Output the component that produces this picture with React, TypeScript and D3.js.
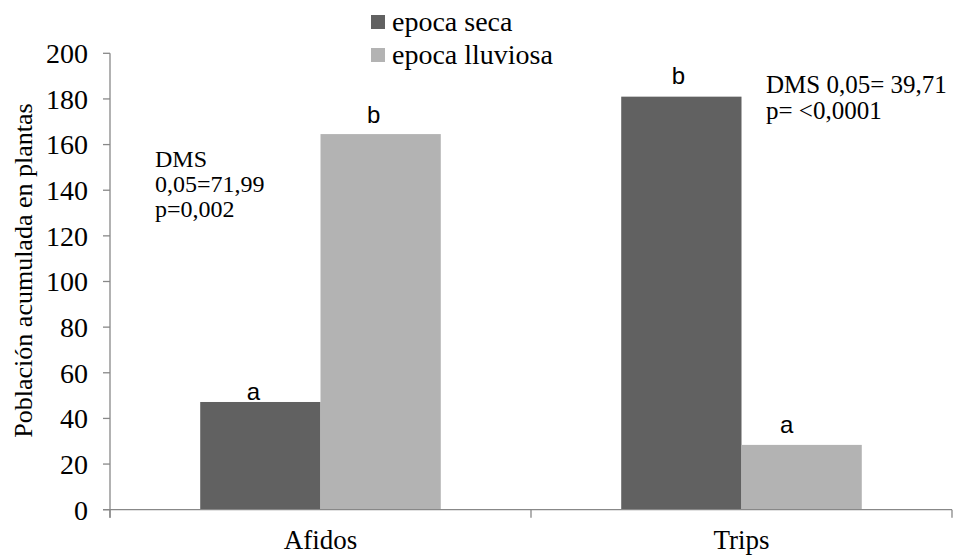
import React from "react";
import * as d3 from "d3";

const categories = ["Afidos", "Trips"];
const seriesNames = ["epoca seca", "epoca lluviosa"];
const epocaSeca = [47.2, 181];
const epocaLluviosa = [164.6, 28.4];
const letrasSeca = ["a", "b"];
const letrasLluviosa = ["b", "a"];
const yTicks = [0, 20, 40, 60, 80, 100, 120, 140, 160, 180, 200];
const colors = ["#616161", "#b3b3b3"];

const W = 957;
const H = 556;
const margin = { left: 110, right: 5, top: 53.3, bottom: 46.3 };

export default function App() {
  const x0 = d3
    .scaleBand<string>()
    .domain(categories)
    .range([margin.left, W - margin.right])
    .paddingInner(0)
    .paddingOuter(0);
  const y = d3.scaleLinear().domain([0, 200]).range([H - margin.bottom, margin.top]);
  const groupW = x0.bandwidth() / 1.75;
  const x1 = d3.scaleBand<number>().domain([0, 1]).range([0, groupW]);
  const series = [epocaSeca, epocaLluviosa];
  const letters = [letrasSeca, letrasLluviosa];
  const letterDx = [
    [-7, -7],
    [-3, -15],
  ];
  const letterDy = [
    [-2, -11],
    [-13, -12],
  ];
  const serif = "'Liberation Serif', 'Times New Roman', serif";
  const sans = "'Liberation Sans', Arial, sans-serif";
  const axisColor = "#888888";
  const y0 = y(0);
  const xTicks = [margin.left, ...categories.map((c) => (x0(c) as number) + x0.bandwidth())];

  return (
    <svg
      width={W}
      height={H}
      style={{ position: "absolute", left: 0, top: 0, background: "#fff" }}
    >
      {/* bars */}
      {categories.map((c, ci) => {
        const gx = (x0(c) as number) + (x0.bandwidth() - groupW) / 2;
        return (
          <g key={c}>
            {series.map((s, si) => (
              <rect
                key={si}
                x={gx + (x1(si) as number)}
                y={y(s[ci])}
                width={x1.bandwidth()}
                height={y0 - y(s[ci])}
                fill={colors[si]}
              />
            ))}
            {series.map((s, si) => (
              <text
                key={"l" + si}
                x={gx + (x1(si) as number) + x1.bandwidth() / 2 + letterDx[ci][si]}
                y={y(s[ci]) + letterDy[ci][si]}
                textAnchor="middle"
                fontFamily={sans}
                fontSize={24}
                fill="#000"
              >
                {letters[si][ci]}
              </text>
            ))}
          </g>
        );
      })}

      {/* y axis */}
      <line x1={margin.left} x2={margin.left} y1={y(200)} y2={y0 + 8} stroke={axisColor} strokeWidth={1.3} />
      {yTicks.map((t) => (
        <g key={t}>
          <line x1={margin.left - 7} x2={margin.left} y1={y(t)} y2={y(t)} stroke={axisColor} strokeWidth={1.3} />
          <text
            x={88}
            y={y(t)}
            dy="0.35em"
            textAnchor="end"
            fontFamily={serif}
            fontSize={28}
            fill="#000"
          >
            {t}
          </text>
        </g>
      ))}

      {/* x axis */}
      <line x1={margin.left - 7} x2={W - margin.right} y1={y0} y2={y0} stroke={axisColor} strokeWidth={1.3} />
      {xTicks.map((t, i) => (
        <line key={i} x1={t} x2={t} y1={y0} y2={y0 + 8} stroke={axisColor} strokeWidth={1.3} />
      ))}
      {categories.map((c) => (
        <text
          key={c}
          x={(x0(c) as number) + x0.bandwidth() / 2}
          y={y0 + 39}
          textAnchor="middle"
          fontFamily={serif}
          fontSize={27}
          fill="#000"
        >
          {c}
        </text>
      ))}

      {/* y label */}
      <text
        transform={`translate(32, ${(y(200) + y0) / 2 - 11}) rotate(-90)`}
        textAnchor="middle"
        fontFamily={serif}
        fontSize={26}
        fill="#000"
      >
        Población acumulada en plantas
      </text>

      {/* legend */}
      {seriesNames.map((n, i) => (
        <g key={n} transform={`translate(371, ${15 + i * 33})`}>
          <rect x={0} y={0} width={14} height={14} fill={colors[i]} />
          <text x={21} y={16} fontFamily={serif} fontSize={28} fill="#000">
            {n}
          </text>
        </g>
      ))}

      {/* annotations */}
      <text fontFamily={serif} fontSize={24} fill="#000">
        <tspan x={155} y={167}>DMS</tspan>
        <tspan x={155} y={192}>0,05=71,99</tspan>
        <tspan x={155} y={217}>p=0,002</tspan>
      </text>
      <text fontFamily={serif} fontSize={25} fill="#000">
        <tspan x={766} y={93}>DMS 0,05= 39,71</tspan>
        <tspan x={766} y={119}>p= &lt;0,0001</tspan>
      </text>
    </svg>
  );
}
